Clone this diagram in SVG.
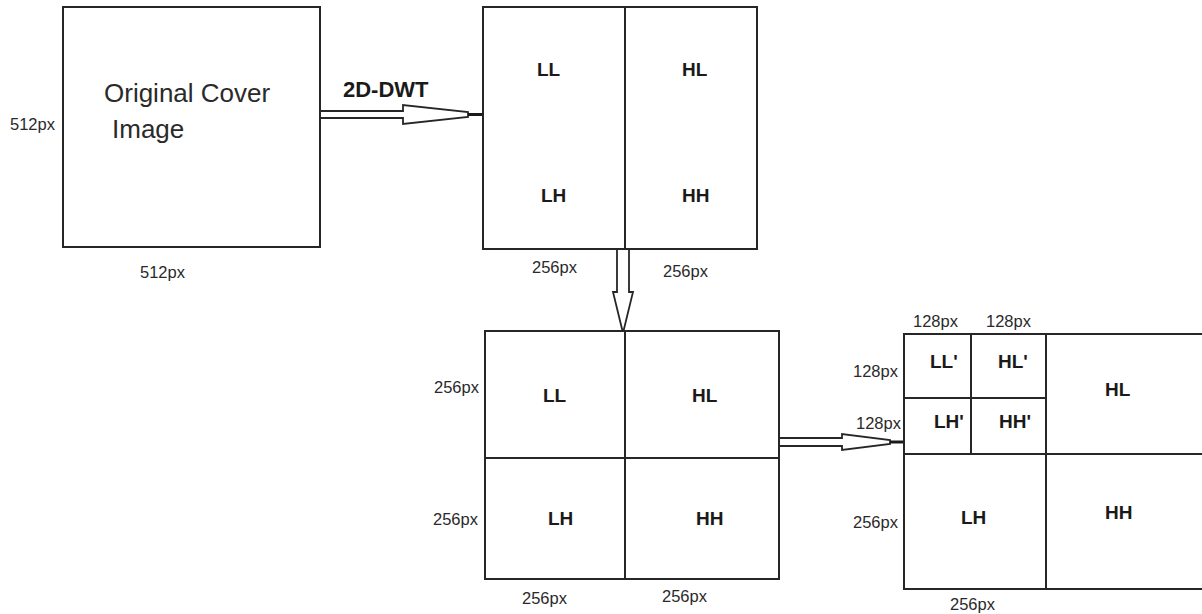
<svg xmlns="http://www.w3.org/2000/svg" width="1202" height="614" viewBox="0 0 1202 614">
<style>
.box{fill:#fff;stroke:#262626;stroke-width:2}
.ln{stroke:#262626;stroke-width:2;fill:none}
.arr{fill:#fff;stroke:#262626;stroke-width:1.8;stroke-linejoin:miter}
.stub{stroke:#1a1a1a;stroke-width:3}
.dim{font-family:"Liberation Sans",Arial,sans-serif;font-size:16.5px;fill:#2a2a2a}
.lab{font-family:"Liberation Sans",Arial,sans-serif;font-size:19px;font-weight:bold;fill:#1a1a1a}
.big{font-family:"Liberation Sans",Arial,sans-serif;font-size:26px;fill:#2a2a2a}
</style>
<rect width="1202" height="614" fill="#fff"/>
<g id="connectors">
<g id="arrow-dwt">
<path class="arr" d="M320,111 H403 V105 L468,112 V117 L403,124 V118 H320 Z"/>
<line class="stub" x1="468" y1="114.5" x2="483" y2="114.5"/>
<text class="lab" x="343" y="97" style="font-size:22px">2D-DWT</text>
</g>
<g id="arrow-down">
<path class="arr" d="M617,249 H629 V292 H633 L623,333 L613,292 H617 Z"/>
</g>
<g id="arrow-right">
<path class="arr" d="M779,438 H842 V434 L890,440 V444 L842,450 V446 H779 Z"/>
<line class="stub" x1="890" y1="442" x2="904" y2="442"/>
</g>
</g>
<g id="original">
<rect class="box" x="63" y="7" width="257" height="240"/>
<text class="big" x="104" y="102">Original Cover</text>
<text class="big" x="112" y="138">Image</text>
<text class="dim" x="10" y="130">512px</text>
<text class="dim" x="140" y="278">512px</text>
</g>
<g id="dwt1">
<rect class="box" x="483" y="7" width="274" height="242"/>
<line class="ln" x1="625" y1="7" x2="625" y2="249"/>
<text class="lab" x="537" y="76">LL</text>
<text class="lab" x="682" y="76">HL</text>
<text class="lab" x="541" y="202">LH</text>
<text class="lab" x="682" y="202">HH</text>
<text class="dim" x="532" y="273">256px</text>
<text class="dim" x="663" y="277">256px</text>
</g>
<g id="dwt1-grid">
<rect class="box" x="485" y="331" width="294" height="248"/>
<line class="ln" x1="625" y1="331" x2="625" y2="579"/>
<line class="ln" x1="485" y1="458" x2="779" y2="458"/>
<text class="lab" x="543" y="402">LL</text>
<text class="lab" x="692" y="402">HL</text>
<text class="lab" x="548" y="525">LH</text>
<text class="lab" x="696" y="525">HH</text>
<text class="dim" x="434" y="393">256px</text>
<text class="dim" x="433" y="525">256px</text>
<text class="dim" x="522" y="604">256px</text>
<text class="dim" x="662" y="602">256px</text>
</g>
<g id="dwt2">
<path class="ln" d="M1203,334 H904 V589 H1203"/>
<line class="ln" x1="1046" y1="334" x2="1046" y2="589"/>
<line class="ln" x1="904" y1="454" x2="1203" y2="454"/>
<line class="ln" x1="971" y1="334" x2="971" y2="454"/>
<line class="ln" x1="904" y1="398" x2="1046" y2="398"/>
<text class="lab" x="930" y="368">LL'</text>
<text class="lab" x="998" y="368">HL'</text>
<text class="lab" x="934" y="428">LH'</text>
<text class="lab" x="999" y="428">HH'</text>
<text class="lab" x="1105" y="396">HL</text>
<text class="lab" x="961" y="524">LH</text>
<text class="lab" x="1105" y="519">HH</text>
<text class="dim" x="913" y="327">128px</text>
<text class="dim" x="986" y="327">128px</text>
<text class="dim" x="853" y="377">128px</text>
<text class="dim" x="856" y="429">128px</text>
<text class="dim" x="853" y="528">256px</text>
<text class="dim" x="950" y="610">256px</text>
</g>
</svg>
